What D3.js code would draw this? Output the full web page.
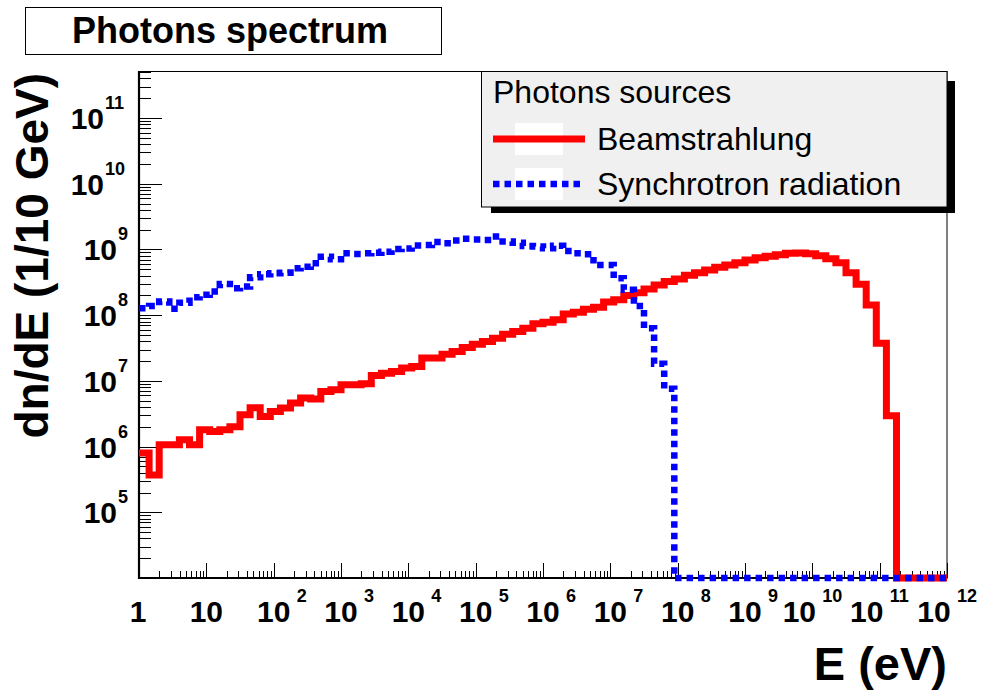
<!DOCTYPE html>
<html>
<head>
<meta charset="utf-8">
<script src="https://cdn.jsdelivr.net/npm/d3@7"></script>
<style>
  body { margin: 0; background: #fff; }
  svg { display: block; font-family: "Liberation Sans", Arial, Helvetica, sans-serif; }
</style>
</head>
<body>
<svg id="chart" width="982" height="696"></svg>
<script>
// histogram binning: 80 log-uniform bins between 1 eV and 1e12 eV
const nBins = 80
const energyRange = [1, 1e12]
const countRange = [1e4, 5.2e11]
const xDecades = [0, 1, 2, 3, 4, 5, 6, 7, 8, 9, 10, 11, 12]
const yDecades = [5, 6, 7, 8, 9, 10, 11]

const chartTitle = 'Photons spectrum'
const xTitle = 'E (eV)'
const yTitle = 'dn/dE (1/10 GeV)'
const legendTitle = 'Photons sources'
const seriesNames = ['Beamstrahlung', 'Synchrotron radiation']

// bin contents (0 = empty bin)
const beamstrahlung = [
    8.0e5, 3.7e5, 1.07e6, 1.07e6, 1.27e6, 1.07e6, 1.81e6, 1.70e6, 1.81e6, 2.01e6,
    3.05e6, 3.9e6, 2.88e6, 3.43e6, 3.86e6, 4.6e6, 5.48e6, 5.29e6, 6.9e6, 7.33e6,
    8.73e6, 8.73e6, 9.04e6, 1.21e7, 1.31e7, 1.39e7, 1.57e7, 1.66e7, 2.22e7, 2.22e7,
    2.55e7, 2.8e7, 3.22e7, 3.62e7, 3.97e7, 4.47e7, 5.14e7, 5.63e7, 6.34e7, 7.38e7,
    7.83e7, 8.49e7, 1.04e8, 1.11e8, 1.23e8, 1.32e8, 1.58e8, 1.71e8, 1.99e8, 2.2e8,
    2.51e8, 2.89e8, 3.24e8, 3.56e8, 4.06e8, 4.44e8, 4.88e8, 5.36e8, 5.81e8, 6.3e8,
    6.92e8, 7.5e8, 7.88e8, 8.34e8, 8.75e8, 8.85e8, 8.63e8, 8.05e8, 7.24e8, 6.3e8,
    4.44e8, 2.96e8, 1.43e8, 3.75e7, 2.95e6, 0, 0, 0, 0, 0
]
const synchrotron = [
    1.28e8, 1.38e8, 1.61e8, 1.25e8, 1.55e8, 1.88e8, 2.04e8, 2.29e8, 2.99e8, 2.57e8,
    2.72e8, 3.78e8, 4.2e8, 4.35e8, 4.44e8, 5.17e8, 5.48e8, 6.17e8, 7.78e8, 7.1e8,
    8.75e8, 8.55e8, 8.75e8, 8.93e8, 9.26e8, 1.02e9, 1.03e9, 1.15e9, 1.17e9, 1.3e9,
    1.24e9, 1.37e9, 1.45e9, 1.42e9, 1.39e9, 1.57e9, 1.32e9, 1.26e9, 1.13e9, 1.11e9,
    1.04e9, 1.14e9, 9.49e8, 8.75e8, 8.45e8, 5.81e8, 5.81e8, 3.65e8, 2.43e8, 1.38e8,
    6.34e7, 1.82e7, 7.59e6, 0, 0, 0, 0, 0, 0, 0,
    0, 0, 0, 0, 0, 0, 0, 0, 0, 0,
    0, 0, 0, 0, 0, 0, 0, 0, 0, 0
]

const colors = ['#ff0000', '#0000ff']

let svg = d3.select('#chart')

let x = d3.scaleLog().domain(energyRange).range([139, 947])
let y = d3.scaleLog().domain(countRange).range([578, 71])

let edges = d3.range(nBins + 1).map(function (k) {
    return energyRange[0] * Math.pow(energyRange[1] / energyRange[0], k / nBins)
})

// title box
svg.append('rect')
    .attr('x', 25.5).attr('y', 7.5).attr('width', 416).attr('height', 47)
    .attr('fill', '#fff').attr('stroke', '#000').attr('stroke-width', 1)
svg.append('text')
    .attr('x', 230).attr('y', 43)
    .attr('text-anchor', 'middle')
    .attr('font-weight', 'bold').attr('font-size', 36)
    .text(chartTitle)

// frame
svg.append('rect')
    .attr('x', 139).attr('y', 71.5).attr('width', 808).attr('height', 507)
    .attr('fill', '#fff').attr('stroke', '#000').attr('stroke-width', 1)

// ticks
let xMinor = [], yMinor = []
xDecades.slice(0, -1).forEach(function (k) {
    d3.range(2, 10).forEach(function (m) { xMinor.push(m * Math.pow(10, k)) })
})
d3.range(4, 12).forEach(function (k) {
    d3.range(2, 10).forEach(function (m) {
        let v = m * Math.pow(10, k)
        if (v < countRange[1]) yMinor.push(v)
    })
})

let ticks = svg.append('g').attr('stroke', '#000').attr('stroke-width', 1)

ticks.selectAll('.xmajor')
    .data(xDecades)
    .enter().append('line')
    .attr('x1', function (k) { return Math.round(x(Math.pow(10, k))) + 0.5 })
    .attr('x2', function (k) { return Math.round(x(Math.pow(10, k))) + 0.5 })
    .attr('y1', 578).attr('y2', 563)

ticks.selectAll('.xminor')
    .data(xMinor)
    .enter().append('line')
    .attr('x1', function (v) { return Math.round(x(v)) + 0.5 })
    .attr('x2', function (v) { return Math.round(x(v)) + 0.5 })
    .attr('y1', 578).attr('y2', 571)

ticks.selectAll('.ymajor')
    .data(yDecades)
    .enter().append('line')
    .attr('y1', function (k) { return Math.round(y(Math.pow(10, k))) + 0.5 })
    .attr('y2', function (k) { return Math.round(y(Math.pow(10, k))) + 0.5 })
    .attr('x1', 139).attr('x2', 162)

ticks.selectAll('.yminor')
    .data(yMinor)
    .enter().append('line')
    .attr('y1', function (v) { return Math.round(y(v)) + 0.5 })
    .attr('y2', function (v) { return Math.round(y(v)) + 0.5 })
    .attr('x1', 139).attr('x2', 151)

// axis lines
svg.append('line').attr('x1', 139).attr('x2', 139).attr('y1', 71).attr('y2', 579)
    .attr('stroke', '#000').attr('stroke-width', 2.2)
svg.append('line').attr('x1', 138).attr('x2', 947).attr('y1', 578).attr('y2', 578)
    .attr('stroke', '#000').attr('stroke-width', 2.2)

// x tick labels
let xLabels = svg.append('g').attr('font-weight', 'bold')
xDecades.forEach(function (k) {
    let tx = x(Math.pow(10, k))
    if (k === 0) {
        xLabels.append('text').attr('x', tx - 1).attr('y', 622)
            .attr('text-anchor', 'middle').attr('font-size', 30).text('1')
        return
    }
    let cx = k >= 10 ? tx - 13 : tx
    xLabels.append('text').attr('x', cx).attr('y', 622)
        .attr('text-anchor', 'middle').attr('font-size', 30).text('10')
    if (k > 1) {
        xLabels.append('text').attr('x', cx + 23).attr('y', 602)
            .attr('font-size', 18).text(k)
    }
})

// y tick labels
let yLabels = svg.append('g').attr('font-weight', 'bold')
yDecades.forEach(function (k) {
    let ty = y(Math.pow(10, k))
    let right = k >= 10 ? 104 : 117
    yLabels.append('text').attr('x', right).attr('y', ty + 11)
        .attr('text-anchor', 'end').attr('font-size', 30).text('10')
    yLabels.append('text').attr('x', right + 1).attr('y', ty - 9)
        .attr('font-size', 18).text(k)
})

// axis titles
svg.append('text')
    .attr('x', 947).attr('y', 680)
    .attr('text-anchor', 'end')
    .attr('font-weight', 'bold').attr('font-size', 47)
    .text(xTitle)

svg.append('text')
    .attr('transform', 'translate(48,73) rotate(-90)')
    .attr('text-anchor', 'end')
    .attr('font-weight', 'bold').attr('font-size', 46)
    .text(yTitle)

// histograms
function stepPath(values) {
    let p = ''
    values.forEach(function (v, i) {
        let yy = y(Math.max(v, countRange[0]))
        p += (i === 0 ? 'M' : 'L') + x(edges[i]) + ',' + yy + 'L' + x(edges[i + 1]) + ',' + yy
    })
    return p
}

svg.append('path')
    .attr('d', stepPath(beamstrahlung))
    .attr('fill', 'none')
    .attr('stroke', colors[0])
    .attr('stroke-width', 7)
    .attr('stroke-linejoin', 'miter')

svg.append('path')
    .attr('d', stepPath(synchrotron))
    .attr('fill', 'none')
    .attr('stroke', colors[1])
    .attr('stroke-width', 6.5)
    .attr('stroke-dasharray', '6.5,5')
    .attr('stroke-linejoin', 'miter')

// legend
let legend = svg.append('g')
legend.append('rect').attr('x', 947).attr('y', 81).attr('width', 8).attr('height', 132).attr('fill', '#000')
legend.append('rect').attr('x', 491).attr('y', 207).attr('width', 464).attr('height', 6).attr('fill', '#000')
legend.append('rect')
    .attr('x', 481.5).attr('y', 71.5).attr('width', 465.5).attr('height', 135.5)
    .attr('fill', '#f0f0f0').attr('stroke', '#000').attr('stroke-width', 1)

legend.append('text')
    .attr('x', 493).attr('y', 103)
    .attr('font-size', 32)
    .text(legendTitle)

let rowY = [139, 184]
seriesNames.forEach(function (name, i) {
    legend.append('rect')
        .attr('x', 515).attr('y', rowY[i] - 16).attr('width', 48).attr('height', 32)
        .attr('fill', '#fff')
    legend.append('line')
        .attr('x1', 493).attr('x2', 585)
        .attr('y1', rowY[i]).attr('y2', rowY[i])
        .attr('stroke', colors[i])
        .attr('stroke-width', i === 0 ? 7 : 6.5)
        .attr('stroke-dasharray', i === 0 ? null : '6.5,5')
    legend.append('text')
        .attr('x', 597).attr('y', rowY[i] + 11)
        .attr('font-size', 32)
        .text(name)
})
</script>
</body>
</html>
